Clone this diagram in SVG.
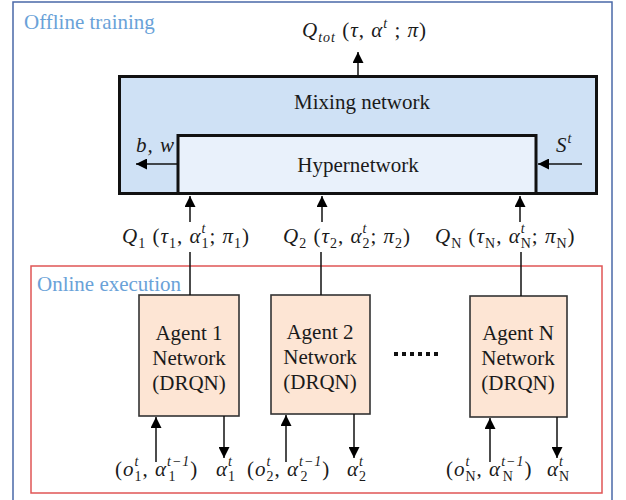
<svg xmlns="http://www.w3.org/2000/svg" width="626" height="500" viewBox="0 0 626 500">
<style>
text{font-family:"Liberation Serif","DejaVu Serif",serif;fill:#1a1a1a}
.lbl{font-size:21px}
.sec{font-size:21px;fill:#6aa2d8}
.m{font-size:21px;letter-spacing:1px}
.i{font-style:italic}
.s{font-size:14px}
.ln{stroke:#111;stroke-width:1.5;fill:none}
.agent{fill:#fde5d4;stroke:#333;stroke-width:1.6}
</style>
<defs>
<marker id="ah" viewBox="0 0 10 10" refX="10" refY="5" markerWidth="11" markerHeight="11" orient="auto" markerUnits="userSpaceOnUse"><path d="M0,0 L10,5 L0,10 z" fill="#000"/></marker>
</defs>
<rect width="626" height="500" fill="#fff"/>
<g id="offline-frame">
<rect x="13" y="2" width="599" height="520" fill="none" stroke="#4a68a8" stroke-width="1.5"/>
<text class="sec" x="24" y="29">Offline training</text>
</g>
<g id="online-frame">
<rect x="31" y="266" width="571" height="227" fill="none" stroke="#e05555" stroke-width="1.5"/>
<text class="sec" x="37" y="291">Online execution</text>
</g>
<g id="mixing">
<rect x="119.5" y="76.5" width="477" height="117" fill="#cfe1f5" stroke="#111" stroke-width="3"/>
<text class="lbl" x="362" y="109" text-anchor="middle">Mixing network</text>
</g>
<g id="hypernetwork">
<rect x="178" y="135.5" width="358" height="58" fill="#e9f1fb" stroke="#111" stroke-width="3"/>
<text class="lbl" x="358" y="172" text-anchor="middle">Hypernetwork</text>
</g>
<g id="agent1">
<rect class="agent" x="139" y="295" width="100" height="121"/>
<text class="lbl" x="189" y="340" text-anchor="middle">Agent 1</text>
<text class="lbl" x="189" y="365" text-anchor="middle">Network</text>
<text class="lbl" x="189" y="390" text-anchor="middle">(DRQN)</text>
</g>
<g id="agent2">
<rect class="agent" x="271" y="295" width="99" height="119"/>
<text class="lbl" x="320" y="339" text-anchor="middle">Agent 2</text>
<text class="lbl" x="320" y="364" text-anchor="middle">Network</text>
<text class="lbl" x="320" y="389" text-anchor="middle">(DRQN)</text>
</g>
<g id="agentN">
<rect class="agent" x="470" y="296" width="97" height="121"/>
<text class="lbl" x="518" y="340" text-anchor="middle">Agent N</text>
<text class="lbl" x="518" y="365" text-anchor="middle">Network</text>
<text class="lbl" x="518" y="390" text-anchor="middle">(DRQN)</text>
</g>
<g id="ellipsis" fill="#111">
<rect x="394" y="352" width="4" height="4"/><rect x="402" y="352" width="4" height="4"/><rect x="410" y="352" width="4" height="4"/><rect x="418" y="352" width="4" height="4"/><rect x="426" y="352" width="4" height="4"/><rect x="434" y="352" width="4" height="4"/>
</g>
<g id="connectors">
<line class="ln" x1="358" y1="76" x2="358" y2="52" marker-end="url(#ah)"/>
<line class="ln" x1="178" y1="164" x2="136" y2="164" marker-end="url(#ah)"/>
<line class="ln" x1="582" y1="164" x2="538" y2="164" marker-end="url(#ah)"/>
<line class="ln" x1="190" y1="222" x2="190" y2="196" marker-end="url(#ah)"/>
<line class="ln" x1="322" y1="222" x2="322" y2="196" marker-end="url(#ah)"/>
<line class="ln" x1="520" y1="222" x2="520" y2="196" marker-end="url(#ah)"/>
<line class="ln" x1="190" y1="252" x2="190" y2="295"/>
<line class="ln" x1="321" y1="252" x2="321" y2="295"/>
<line class="ln" x1="521" y1="252" x2="521" y2="296"/>
<line class="ln" x1="156" y1="462" x2="156" y2="417" marker-end="url(#ah)"/>
<line class="ln" x1="224" y1="416" x2="224" y2="458" marker-end="url(#ah)"/>
<line class="ln" x1="286" y1="462" x2="286" y2="415" marker-end="url(#ah)"/>
<line class="ln" x1="354" y1="414" x2="354" y2="458" marker-end="url(#ah)"/>
<line class="ln" x1="490" y1="462" x2="490" y2="418" marker-end="url(#ah)"/>
<line class="ln" x1="557" y1="417" x2="557" y2="458" marker-end="url(#ah)"/>
</g>
<g id="labels">
<text class="m" x="302" y="37"><tspan class="i">Q</tspan><tspan class="s i" dy="5">tot</tspan><tspan dy="-5"> (</tspan><tspan class="i">τ</tspan><tspan>, </tspan><tspan class="i">α</tspan><tspan class="s i" dy="-9">t</tspan><tspan dy="9"> ; </tspan><tspan class="i">π</tspan><tspan>)</tspan></text>
<text class="m i" x="136" y="152">b, w</text>
<text class="m" x="556" y="152"><tspan class="i">S</tspan><tspan class="s i" dy="-9">t</tspan></text>
<text class="m" x="122" y="243"><tspan class="i">Q</tspan><tspan class="s" dy="5">1</tspan><tspan dy="-5"> (</tspan><tspan class="i">τ</tspan><tspan class="s" dy="5">1</tspan><tspan dy="-5">, </tspan><tspan class="i">α</tspan><tspan class="s i" dy="-10">t</tspan><tspan class="s" dx="-4.9" dy="15">1</tspan><tspan dy="-5">; </tspan><tspan class="i">π</tspan><tspan class="s" dy="5">1</tspan><tspan dy="-5">)</tspan></text>
<text class="m" x="283" y="243"><tspan class="i">Q</tspan><tspan class="s" dy="5">2</tspan><tspan dy="-5"> (</tspan><tspan class="i">τ</tspan><tspan class="s" dy="5">2</tspan><tspan dy="-5">, </tspan><tspan class="i">α</tspan><tspan class="s i" dy="-10">t</tspan><tspan class="s" dx="-4.9" dy="15">2</tspan><tspan dy="-5">; </tspan><tspan class="i">π</tspan><tspan class="s" dy="5">2</tspan><tspan dy="-5">)</tspan></text>
<text class="m" x="435" y="243"><tspan class="i">Q</tspan><tspan class="s" dy="5">N</tspan><tspan dy="-5"> (</tspan><tspan class="i">τ</tspan><tspan class="s" dy="5">N</tspan><tspan dy="-5">, </tspan><tspan class="i">α</tspan><tspan class="s i" dy="-10">t</tspan><tspan class="s" dx="-4.9" dy="15">N</tspan><tspan dy="-5">; </tspan><tspan class="i">π</tspan><tspan class="s" dy="5">N</tspan><tspan dy="-5">)</tspan></text>
<text class="m" x="115" y="476"><tspan>(</tspan><tspan class="i">o</tspan><tspan class="s i" dy="-10">t</tspan><tspan class="s" dx="-4.9" dy="15">1</tspan><tspan dy="-5">, </tspan><tspan class="i">α</tspan><tspan class="s i" dy="-10">t−1</tspan><tspan class="s" dx="-21.8" dy="15">1</tspan><tspan dx="13.8" dy="-5">)</tspan></text>
<text class="m" x="216" y="476"><tspan class="i">α</tspan><tspan class="s i" dy="-10">t</tspan><tspan class="s" dx="-4.9" dy="15">1</tspan></text>
<text class="m" x="247" y="476"><tspan>(</tspan><tspan class="i">o</tspan><tspan class="s i" dy="-10">t</tspan><tspan class="s" dx="-4.9" dy="15">2</tspan><tspan dy="-5">, </tspan><tspan class="i">α</tspan><tspan class="s i" dy="-10">t−1</tspan><tspan class="s" dx="-21.8" dy="15">2</tspan><tspan dx="13.8" dy="-5">)</tspan></text>
<text class="m" x="347" y="476"><tspan class="i">α</tspan><tspan class="s i" dy="-10">t</tspan><tspan class="s" dx="-4.9" dy="15">2</tspan></text>
<text class="m" x="446" y="476"><tspan>(</tspan><tspan class="i">o</tspan><tspan class="s i" dy="-10">t</tspan><tspan class="s" dx="-4.9" dy="15">N</tspan><tspan dy="-5">, </tspan><tspan class="i">α</tspan><tspan class="s i" dy="-10">t−1</tspan><tspan class="s" dx="-21.8" dy="15">N</tspan><tspan dx="10.7" dy="-5">)</tspan></text>
<text class="m" x="547" y="476"><tspan class="i">α</tspan><tspan class="s i" dy="-10">t</tspan><tspan class="s" dx="-4.9" dy="15">N</tspan></text>
</g>
</svg>
